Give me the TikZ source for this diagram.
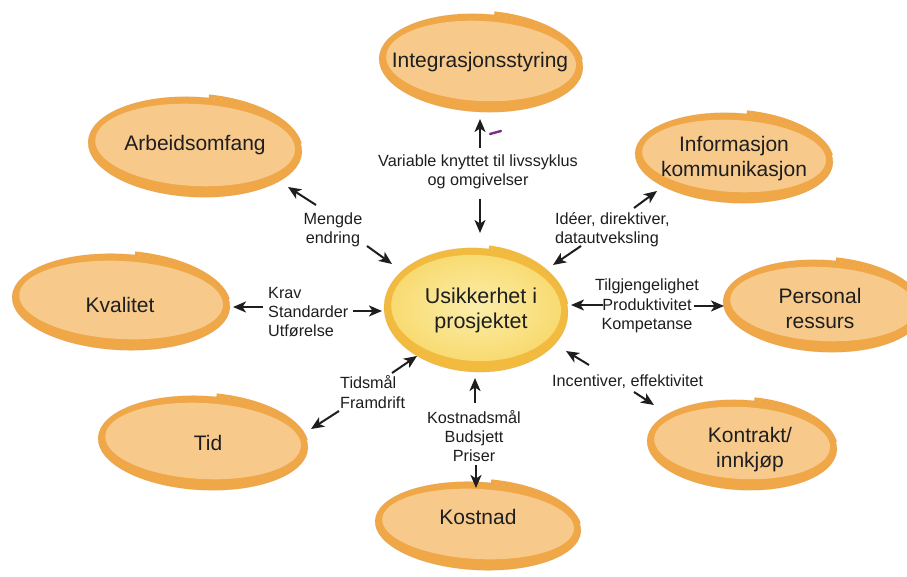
\documentclass[tikz,border=0pt]{standalone}
\usepackage{fontspec}
\setmainfont{Liberation Sans}
\usetikzlibrary{arrows.meta}
\definecolor{ringO}{HTML}{F0A747}
\definecolor{innerO}{HTML}{F7CA8C}
\definecolor{ringC}{HTML}{F2BB40}
\definecolor{innerCa}{HTML}{FBEEAA}
\definecolor{innerCb}{HTML}{F8DA70}
\definecolor{ink}{HTML}{1E1E1E}
\definecolor{pen}{HTML}{7A2E8A}

% Oval with a spiral step on its top edge:
% #1 x, #2 y, #3 x radius, #4 y radius, #5 ring colour, #6 inner fill options
\newcommand\spiraloval[6]{%
  \begin{scope}[shift={(#1,#2)}, rotate=-3]
    \pgfmathsetmacro\rxo{#3+1}\pgfmathsetmacro\ryo{#4+3.5}%
    \pgfmathsetmacro\rxi{#3-7}\pgfmathsetmacro\ryi{#4-9}%
    \fill[#5] (0,0) ellipse [x radius=#3, y radius=#4];
    \fill[#5] ({\rxo*cos(84)},{\ryo*sin(84)})
      arc[start angle=84, end angle=10, x radius=\rxo, y radius=\ryo]
      -- ({#3*cos(10)},{#4*sin(10)})
      arc[start angle=10, end angle=84, x radius=#3, y radius=#4] -- cycle;
    \draw[#5!85!black, line width=0.6pt, opacity=0.3] (0,0) ellipse [x radius=#3, y radius=#4];
    \path[#6] (0,2) ellipse [x radius=\rxi, y radius=\ryi];
  \end{scope}}

\begin{document}
\begin{tikzpicture}[x=1pt,y=1pt,
  lab/.style={font=\fontsize{21}{25}\selectfont, text=ink, align=center, inner sep=0pt},
  note/.style={font=\fontsize{16.2}{19.2}\selectfont, text=ink, align=center, inner sep=0pt},
  notel/.style={note, align=left, anchor=west},
  arr/.style={draw=ink, line width=2pt, -{Stealth[length=13pt,width=11pt,inset=3.5pt]}},
  plain/.style={fill=innerO},
  core/.style={shade, inner color=innerCa, outer color=innerCb}]
\fill[white] (0,0) rectangle (907,577);
\useasboundingbox (0,0) rectangle (907,577);
\clip (0,0) rectangle (907,577);

% ovals
\spiraloval{481}{514}{102}{49}{ringO}{plain}
\spiraloval{195}{430}{107}{50}{ringO}{plain}
\spiraloval{734}{419}{99}{45}{ringO}{plain}
\spiraloval{121}{275}{109}{48}{ringO}{plain}
\spiraloval{476}{267}{92}{62}{ringC}{core}
\spiraloval{823}{271}{100}{46}{ringO}{plain}
\spiraloval{203}{134}{105}{47}{ringO}{plain}
\spiraloval{742}{132}{95}{45}{ringO}{plain}
\spiraloval{478}{51}{103}{44}{ringO}{plain}

% oval labels
\node[lab] (integ) at (480,515) {Integrasjonsstyring};
\node[lab] (arbeid) at (195,432) {Arbeidsomfang};
\node[lab] (info) at (734,418) {Informasjon\\kommunikasjon};
\node[lab] (kval) at (120,272) {Kvalitet};
\node[lab, font=\fontsize{21.5}{25}\selectfont] (usikk) at (481,267) {Usikkerhet i\\prosjektet};
\node[lab] (pers) at (820,268) {Personal\\ressurs};
\node[lab] (tid) at (208,134) {Tid};
\node[lab] (kontr) at (750,127) {Kontrakt/\\innkjøp};
\node[lab] (kost) at (478,60) {Kostnad};

% factor labels
\node[note] (variabel) at (478,405) {Variable knyttet til livssyklus\\og omgivelser};
\node[note] (mengde) at (333,347) {Mengde\\endring};
\node[notel] (krav) at (268,265) {Krav\\Standarder\\Utførelse};
\node[notel] (tidsmal) at (340,185) {Tidsmål\\Framdrift};
\node[note] (kostmal) at (474,141) {Kostnadsmål\\Budsjett\\Priser};
\node[notel] (ideer) at (555,347) {Idéer, direktiver,\\datautveksling};
\node[note] (tilgj) at (647,271) {Tilgjengelighet\\Produktivitet\\Kompetanse};
\node[notel] (incent) at (552,195) {Incentiver, effektivitet};

% arrow end points
\coordinate (vu0) at (480,429); \coordinate (vu1) at (480,458);
\coordinate (vd0) at (480,378); \coordinate (vd1) at (480,344);
\coordinate (mu0) at (316,372); \coordinate (mu1) at (288,390);
\coordinate (md0) at (367,331); \coordinate (md1) at (392,313);
\coordinate (kl0) at (263,270); \coordinate (kl1) at (233,270);
\coordinate (kr0) at (353,266); \coordinate (kr1) at (382,266);
\coordinate (tu0) at (392,204); \coordinate (tu1) at (417,221);
\coordinate (td0) at (339,166); \coordinate (td1) at (311,148);
\coordinate (ku0) at (475,174); \coordinate (ku1) at (475,199);
\coordinate (kd0) at (476,112); \coordinate (kd1) at (476,89);
\coordinate (iu0) at (634,369); \coordinate (iu1) at (657,386);
\coordinate (id0) at (581,331); \coordinate (id1) at (553,312);
\coordinate (gl0) at (603,272); \coordinate (gl1) at (571,272);
\coordinate (gr0) at (694,271); \coordinate (gr1) at (724,271);
\coordinate (cu0) at (589,212); \coordinate (cu1) at (566,226);
\coordinate (cd0) at (634,185); \coordinate (cd1) at (654,172);

\foreach \a in {vu,vd,mu,md,kl,kr,tu,td,ku,kd,iu,id,gl,gr,cu,cd}
  \draw[arr] (\a0) -- (\a1);

% small pen stroke beside the upper arrow
\coordinate (pen0) at (490,443); \coordinate (pen1) at (501,446);
\draw[pen, line width=2.4pt, line cap=round] (pen0) -- (pen1);
\end{tikzpicture}
\end{document}
